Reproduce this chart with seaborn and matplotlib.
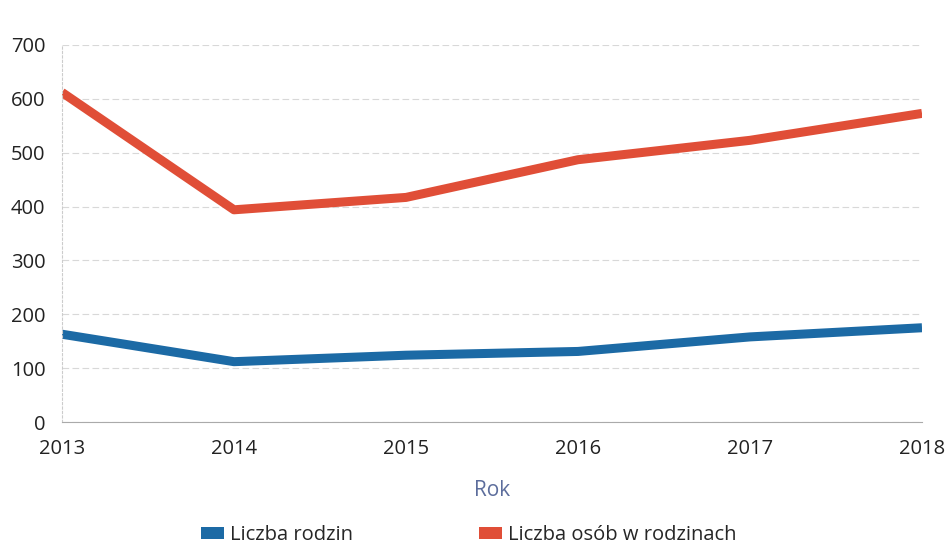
import matplotlib
matplotlib.use("Agg")
import matplotlib.pyplot as plt
import seaborn as sns
import pandas as pd
from matplotlib.patches import Patch

years = [2013, 2014, 2015, 2016, 2017, 2018]
liczba_rodzin = [163, 112, 124, 131, 158, 175]
liczba_osob = [612, 394, 417, 487, 523, 573]
series_names = ["Liczba rodzin", "Liczba osób w rodzinach"]
colors = ["#1c6aa5", "#e04e37"]
yticks = [0, 100, 200, 300, 400, 500, 600, 700]

df = pd.DataFrame({
    "Rok": years * 2,
    "value": liczba_rodzin + liczba_osob,
    "series": [series_names[0]] * len(years) + [series_names[1]] * len(years),
})

sns.set_theme(style="white")
plt.rcParams["font.family"] = ["Open Sans", "DejaVu Sans"]

fig = plt.figure(figsize=(9.49, 5.44), dpi=100)
ax = fig.add_axes([62 / 949, 1 - 422 / 544, (922 - 62) / 949, (422 - 45) / 544])

sns.lineplot(data=df, x="Rok", y="value", hue="series", palette=colors,
             hue_order=series_names, linewidth=6.5, ax=ax, legend=False,
             solid_capstyle="butt", solid_joinstyle="round")

ax.set_xlim(2013, 2018)
ax.set_ylim(0, 700)
ax.set_yticks(yticks)
ax.set_xticks(years)
ax.set_xticklabels([str(y) for y in years])
ax.grid(axis="y", color="#d8d8d8", linewidth=0.8, linestyle=(0, (6, 3)))
for s in ["top", "right"]:
    ax.spines[s].set_visible(False)
ax.spines["left"].set_color("#cccccc")
ax.spines["left"].set_linestyle((0, (2, 2)))
ax.spines["left"].set_linewidth(0.8)
ax.spines["bottom"].set_color("#aaaaaa")
ax.spines["bottom"].set_linewidth(0.8)
ax.tick_params(axis="both", labelsize=14.5, colors="#222222", length=0)
ax.tick_params(axis="y", pad=12)
ax.tick_params(axis="x", pad=12)
ax.set_ylabel("")
ax.set_xlabel("Rok", fontsize=15, color="#5c6d9c", labelpad=15)

handles = [Patch(facecolor=c, edgecolor="none") for c in colors]
fig.legend(handles, series_names, loc="lower center", bbox_to_anchor=(0.494, -0.035),
           ncol=2, frameon=False, fontsize=14.5, handlelength=1.1, handleheight=0.55,
           columnspacing=6.3, handletextpad=0.3)

fig.savefig("out.png", dpi=100, facecolor="white")
